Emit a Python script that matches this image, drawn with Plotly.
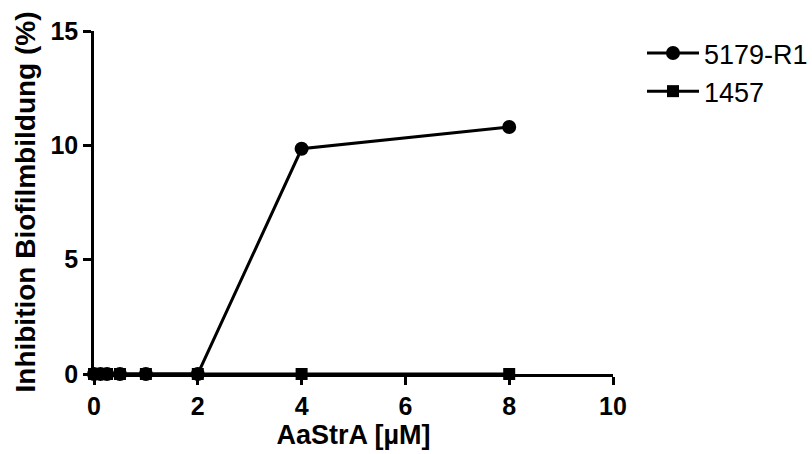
import plotly.graph_objects as go

x_vals = [0, 0.125, 0.25, 0.5, 1, 2, 4, 8]
r1_vals = [0, 0, 0, 0, 0, 0, 9.85, 10.8]
s1457_vals = [0, 0, 0, 0, 0, 0, 0, 0]
series_names = ["5179-R1", "1457"]
x_ticks = [0, 2, 4, 6, 8, 10]
y_ticks = [0, 5, 10, 15]

W, H = 812, 454
L, R, T, B = 94, 199, 31, 80
PW, PH = W - L - R, H - T - B

fig = go.Figure()
fig.add_trace(go.Scatter(x=x_vals, y=r1_vals, name=series_names[0], mode="lines+markers",
                         line=dict(color="black", width=3),
                         marker=dict(symbol="circle", size=14, color="black"),
                         cliponaxis=False))
fig.add_trace(go.Scatter(x=x_vals, y=s1457_vals, name=series_names[1], mode="lines+markers",
                         line=dict(color="black", width=3),
                         marker=dict(symbol="square", size=12, color="black"),
                         cliponaxis=False))

font_family = "Liberation Sans, Arial, sans-serif"
fig.update_layout(
    width=W, height=H,
    margin=dict(l=L, r=R, t=T, b=B, autoexpand=False),
    plot_bgcolor="white", paper_bgcolor="white",
    font=dict(family=font_family, color="black"),
    showlegend=True,
    legend=dict(xref="container", yref="container", x=642 / W, y=1 - 29 / H,
                xanchor="left", yanchor="top",
                font=dict(size=27, family=font_family, color="black"),
                itemwidth=52,
                bgcolor="rgba(0,0,0,0)"),
    xaxis=dict(range=[0, 10], tickvals=x_ticks, showgrid=False, zeroline=False,
               showline=True, linecolor="black", linewidth=2.5,
               ticks="outside", ticklen=8, tickwidth=2.5, tickcolor="black",
               tickfont=dict(size=25, family=font_family, color="black", weight="bold"),
               title=dict(text="<b>AaStrA [µM]</b>", font=dict(size=27), standoff=2)),
    yaxis=dict(range=[0, 15], tickvals=y_ticks, showgrid=False, zeroline=False,
               showline=True, linecolor="black", linewidth=2.5,
               ticks="outside", ticklen=8, tickwidth=2.5, tickcolor="black",
               tickfont=dict(size=25, family=font_family, color="black", weight="bold")),
    annotations=[dict(text="<b>Inhibition Biofilmbildung (%)</b>", textangle=-90,
                      xref="paper", yref="paper", x=(25 - L) / PW, y=0.5,
                      xanchor="center", yanchor="middle", showarrow=False,
                      font=dict(size=28, family=font_family, color="black"))],
)
fig.write_html("out.html")
